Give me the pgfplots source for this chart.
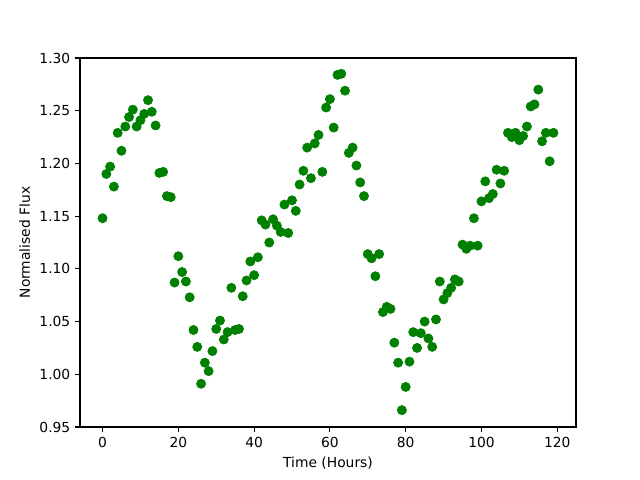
\documentclass[border=0pt]{standalone}
\usepackage{fontspec}
\setmainfont{DejaVu Sans}
\usepackage{pgfplots}
\pgfplotsset{compat=1.18}
\definecolor{mplgreen}{rgb}{0,0.5,0}
\begin{document}
\begin{tikzpicture}
\path[use as bounding box] (0,0) rectangle (6.4in,4.8in);
\begin{axis}[
  at={(0.8in,0.53in)}, anchor=south west,
  scale only axis, width=4.96in, height=3.69in,
  xmin=-5.95, xmax=124.95, ymin=0.95, ymax=1.30,
  xtick={0,20,40,60,80,100,120},
  ytick={0.95,1.00,1.05,1.10,1.15,1.20,1.25,1.30},
  yticklabel style={/pgf/number format/.cd,fixed,fixed zerofill,precision=2},
  /pgf/number format/assume math mode=true,
  tick align=outside, major tick length=3.5pt,
  tick style={black, line width=0.8pt},
  axis line style={line width=0.8pt},
  ticklabel style={font=\fontsize{10}{12}\selectfont},
  label style={font=\fontsize{10}{12}\selectfont},
  xlabel={Time (Hours)}, ylabel={Normalised Flux},
  xtick pos=bottom, ytick pos=left,
  clip=false,
]
\addplot[only marks, mark=*, mark size=3.3pt, color=mplgreen, mark options={fill=mplgreen, draw=mplgreen, line width=0.5pt}] table {
x y
0 1.148
1 1.190
2 1.197
3 1.178
4 1.229
5 1.212
6 1.235
7 1.244
8 1.251
9 1.235
10 1.241
11 1.247
12 1.260
13 1.249
14 1.236
15 1.191
16 1.192
17 1.169
18 1.168
19 1.087
20 1.112
21 1.097
22 1.088
23 1.073
24 1.042
25 1.026
26 0.991
27 1.011
28 1.003
29 1.022
30 1.043
31 1.051
32 1.033
33 1.040
34 1.082
35 1.042
36 1.043
37 1.074
38 1.089
39 1.107
40 1.094
41 1.111
42 1.146
43 1.142
44 1.125
45 1.147
46 1.141
47 1.135
48 1.161
49 1.134
50 1.165
51 1.155
52 1.180
53 1.193
54 1.215
55 1.186
56 1.219
57 1.227
58 1.192
59 1.253
60 1.261
61 1.234
62 1.284
63 1.285
64 1.269
65 1.210
66 1.215
67 1.198
68 1.182
69 1.169
70 1.114
71 1.110
72 1.093
73 1.114
74 1.059
75 1.064
76 1.062
77 1.030
78 1.011
79 0.966
80 0.988
81 1.012
82 1.040
83 1.025
84 1.039
85 1.050
86 1.034
87 1.026
88 1.052
89 1.088
90 1.071
91 1.077
92 1.082
93 1.090
94 1.088
95 1.123
96 1.119
97 1.122
98 1.148
99 1.122
100 1.164
101 1.183
102 1.167
103 1.171
104 1.194
105 1.181
106 1.193
107 1.229
108 1.225
109 1.229
110 1.222
111 1.226
112 1.235
113 1.254
114 1.256
115 1.270
116 1.221
117 1.229
118 1.202
119 1.229
};
\end{axis}
\end{tikzpicture}
\end{document}
